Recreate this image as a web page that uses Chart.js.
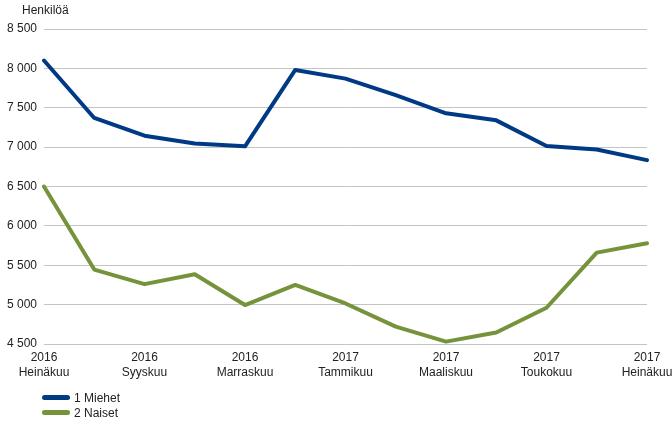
<!DOCTYPE html>
<html>
<head>
<meta charset="utf-8">
<script src="https://cdn.jsdelivr.net/npm/chart.js@4/dist/chart.umd.min.js"></script>
<style>
  body { margin: 0; background: #fff; font-family: "Liberation Sans", Arial, sans-serif; }
  #wrap { position: relative; width: 672px; height: 425px; }
  #unit { position: absolute; left: 22px; top: 3px; font-size: 12px; color: #222; }
  .leg { position: absolute; left: 42px; font-size: 12px; color: #222; height: 15px; line-height: 15px; }
  .leg span { display: inline-block; width: 28px; height: 5px; border-radius: 3px; vertical-align: middle; margin-right: 4px; margin-top: -2px; }
</style>
</head>
<body>
<div id="wrap">
  <canvas id="chart" width="672" height="425"></canvas>
  <div id="unit">Henkilöä</div>
  <div class="leg" style="top:391px"><span style="background:#003a85"></span>1 Miehet</div>
  <div class="leg" style="top:406px"><span style="background:#76933c"></span>2 Naiset</div>
</div>
<script>
var years = ['2016', '2016', '2016', '2016', '2016', '2016', '2017', '2017', '2017', '2017', '2017', '2017', '2017']
var months = ['Heinäkuu', 'Elokuu', 'Syyskuu', 'Lokakuu', 'Marraskuu', 'Joulukuu', 'Tammikuu', 'Helmikuu', 'Maaliskuu', 'Huhtikuu', 'Toukokuu', 'Kesäkuu', 'Heinäkuu']
var miehet = [8100, 7370, 7145, 7045, 7010, 7980, 7870, 7660, 7430, 7340, 7015, 6970, 6835]
var naiset = [6500, 5445, 5260, 5385, 4995, 5250, 5015, 4720, 4530, 4645, 4960, 5660, 5780]

var labels = years.map(function (y, i) { return [y, months[i]] })

new Chart(document.getElementById('chart').getContext('2d'), {
  type: 'line',
  data: {
    labels: labels,
    datasets: [{
      label: '1 Miehet',
      data: miehet,
      borderColor: '#003a85',
      borderWidth: 4,
      pointRadius: 0,
      tension: 0,
      borderCapStyle: 'round',
      borderJoinStyle: 'round'
    }, {
      label: '2 Naiset',
      data: naiset,
      borderColor: '#76933c',
      borderWidth: 4,
      pointRadius: 0,
      tension: 0,
      borderCapStyle: 'round',
      borderJoinStyle: 'round'
    }]
  },
  options: {
    responsive: false,
    animation: false,
    layout: { padding: { top: 29, right: 25, bottom: 41, left: 0 } },
    plugins: { legend: { display: false }, tooltip: { enabled: false } },
    scales: {
      x: {
        grid: { display: false, drawTicks: false },
        border: { display: false },
        ticks: {
          autoSkip: false,
          maxRotation: 0,
          padding: 6,
          color: '#222',
          font: { family: '"Liberation Sans", Arial, sans-serif', size: 12, lineHeight: 1.25 },
          callback: function (v, i) { return i % 2 === 0 ? labels[i] : '' }
        },
        afterFit: function (s) { s.height = 40; s.paddingLeft = 0; s.paddingRight = 0 }
      },
      y: {
        min: 4500,
        max: 8500,
        grid: { color: '#c4c4c4', lineWidth: 1, drawTicks: false },
        border: { display: false },
        ticks: {
          stepSize: 500,
          padding: 7,
          color: '#222',
          font: { family: '"Liberation Sans", Arial, sans-serif', size: 12 },
          callback: function (v) { return String(v).replace(/\B(?=(\d{3})+(?!\d))/g, ' ') }
        },
        afterFit: function (s) { s.width = 44 }
      }
    }
  }
})
</script>
</body>
</html>
